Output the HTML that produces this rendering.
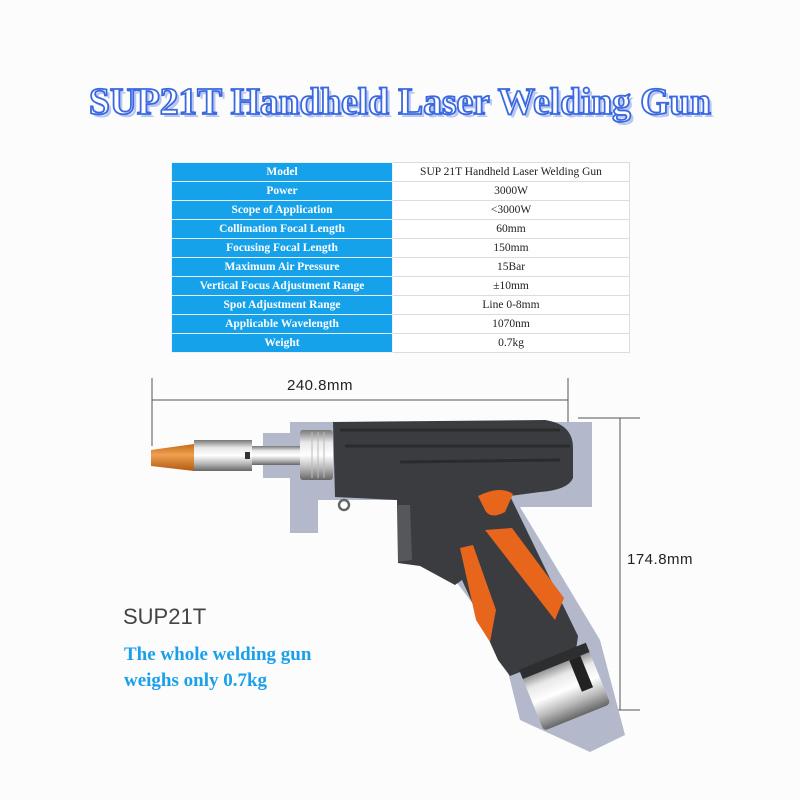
<!DOCTYPE html>
<html><head><meta charset="utf-8"><style>
html,body{margin:0;padding:0;background:#fcfcfd;}
body{width:800px;height:800px;position:relative;overflow:hidden;font-family:"Liberation Serif",serif;}
table{position:absolute;left:171px;top:162px;border-collapse:collapse;width:459px;}
td{height:18px;padding:0;border:1px solid #d8dde2;font-size:11.5px;text-align:center;line-height:18px;}
td.l{background:#16a2ea;color:#fff;font-weight:bold;width:220px;border-color:#e6f3fb;}
td.r{background:#fff;color:#222;}
</style></head><body>
<svg width="800" height="800" style="position:absolute;left:0;top:0">
<defs>
<linearGradient id="chr" x1="0" y1="0" x2="0" y2="1"><stop offset="0" stop-color="#777"/><stop offset="0.25" stop-color="#e8e8e8"/><stop offset="0.5" stop-color="#ffffff"/><stop offset="0.75" stop-color="#bbb"/><stop offset="1" stop-color="#666"/></linearGradient>
<linearGradient id="org" x1="0" y1="0" x2="0" y2="1"><stop offset="0" stop-color="#c46a18"/><stop offset="0.4" stop-color="#f0a050"/><stop offset="1" stop-color="#b05a10"/></linearGradient>
</defs>
<text x="400" y="114" text-anchor="middle" textLength="622" lengthAdjust="spacingAndGlyphs" font-family="Liberation Serif" font-weight="bold" font-size="38" fill="#b8c6f0" transform="translate(3,3)">SUP21T Handheld Laser Welding Gun</text>
<text x="400" y="114" text-anchor="middle" textLength="622" lengthAdjust="spacingAndGlyphs" font-family="Liberation Serif" font-weight="bold" font-size="38" fill="#fff" stroke="#3a68e0" stroke-width="1.8">SUP21T Handheld Laser Welding Gun</text>

<g stroke="#555" stroke-width="1" fill="none">
<line x1="152" y1="378" x2="152" y2="446"/><line x1="568" y1="378" x2="568" y2="432"/>
<line x1="152" y1="400" x2="568" y2="400"/>
<line x1="578" y1="418" x2="640" y2="418"/><line x1="585" y1="710" x2="640" y2="710"/>
<line x1="620" y1="418" x2="620" y2="710"/>
</g>
<text x="320" y="390" text-anchor="middle" font-family="Liberation Sans" font-size="15" fill="#222" letter-spacing="0.5">240.8mm</text>
<text x="627" y="564" font-family="Liberation Sans" font-size="15" fill="#222" letter-spacing="0.5">174.8mm</text>

<path d="M263,433 L290,433 L290,422 L592,422 L592,507 L520,507 L600,640 L625,735 L590,752 L520,720 L500,640 L440,560 L420,500 L318,500 L318,533 L290,533 L290,478 L263,478 Z" fill="#b3b9ca"/>

<path d="M151,450 L194,444 L194,471 L151,466 Z" fill="url(#org)"/>
<rect x="194" y="440" width="58" height="31" fill="url(#chr)"/>
<rect x="245" y="452" width="5" height="7" fill="#333"/>
<rect x="252" y="446" width="51" height="19" fill="url(#chr)"/>
<rect x="300" y="430" width="33" height="50" fill="url(#chr)" rx="3"/>
<g stroke="#bbb" stroke-width="1"><line x1="312" y1="432" x2="312" y2="478"/><line x1="318" y1="432" x2="318" y2="478"/><line x1="324" y1="432" x2="324" y2="478"/></g>
<circle cx="344" cy="505" r="5" fill="none" stroke="#666" stroke-width="2.5"/>

<path d="M333,422 L545,420 Q573,424 573,448 L573,478 Q568,490 540,492 L510,496 L578,636 L576,650 L510,676 L498,660 L462,580 L455,585 L420,566 L398,563 L397,500 L335,497 Z" fill="#3b3c3f"/>
<path d="M340,430 L560,430 M345,446 L570,446 M400,462 L560,460" stroke="#2a2b2d" stroke-width="3" fill="none"/>
<path d="M478,496 Q500,485 513,494 L505,512 Q490,520 485,510 Z" fill="#e8651c"/>
<path d="M485,530 L512,528 L564,598 L555,620 Z" fill="#e8651c"/>
<path d="M460,548 L473,545 L496,610 L490,642 L476,620 Z" fill="#e8651c"/>
<path d="M398,505 L410,505 L412,560 L398,562 Z" fill="#55575a"/>
<g transform="rotate(-22 565 690)">
<rect x="530" y="660" width="72" height="60" fill="url(#chr)" rx="4"/>
<rect x="530" y="654" width="72" height="10" fill="#2d2e30"/>
<rect x="580" y="664" width="12" height="34" fill="#222"/>
</g>
</svg>

<table>
<tr><td class="l">Model</td><td class="r">SUP 21T Handheld Laser Welding Gun</td></tr>
<tr><td class="l">Power</td><td class="r">3000W</td></tr>
<tr><td class="l">Scope of Application</td><td class="r">&lt;3000W</td></tr>
<tr><td class="l">Collimation Focal Length</td><td class="r">60mm</td></tr>
<tr><td class="l">Focusing Focal Length</td><td class="r">150mm</td></tr>
<tr><td class="l">Maximum Air Pressure</td><td class="r">15Bar</td></tr>
<tr><td class="l">Vertical Focus Adjustment Range</td><td class="r">±10mm</td></tr>
<tr><td class="l">Spot Adjustment Range</td><td class="r">Line 0-8mm</td></tr>
<tr><td class="l">Applicable Wavelength</td><td class="r">1070nm</td></tr>
<tr><td class="l">Weight</td><td class="r">0.7kg</td></tr>
</table>

<div style="position:absolute;left:123px;top:604px;font-family:'Liberation Sans',sans-serif;font-size:22px;color:#444;">SUP21T</div>
<div style="position:absolute;left:124px;top:642px;font-family:'Liberation Serif',serif;font-weight:bold;font-size:19px;line-height:26px;color:#1aa0ea;">The whole welding gun<br>weighs only 0.7kg</div>
</body></html>
